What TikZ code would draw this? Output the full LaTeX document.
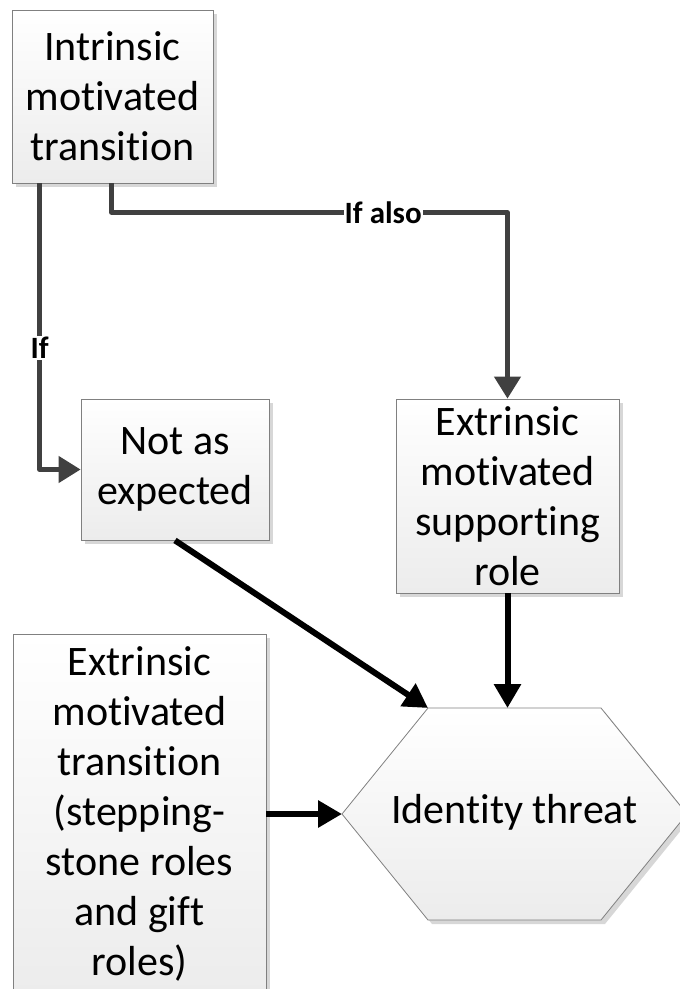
\documentclass[tikz,border=0pt]{standalone}
\usepackage{fontspec}
\setmainfont{Carlito}[Ligatures={NoCommon,NoRequired,NoContextual}]
\usetikzlibrary{arrows.meta,shadows,calc}
\definecolor{conngray}{RGB}{64,64,64}
\definecolor{bordergray}{RGB}{128,128,128}
\definecolor{fillbottom}{RGB}{236,236,236}
\definecolor{shadowgray}{RGB}{215,215,215}
\begin{document}
\begin{tikzpicture}[x=1pt,y=-1pt,
  boxstyle/.style={draw=bordergray, line width=0.8pt, top color=white, bottom color=fillbottom,
    drop shadow={shadow xshift=4pt,shadow yshift=-4pt,fill=shadowgray,opacity=1},
    align=center, inner sep=0pt, font=\fontsize{42}{50}\selectfont},
  hexstyle/.style={draw=bordergray, line width=0.8pt, top color=white, bottom color=fillbottom,
    drop shadow={shadow xshift=4pt,shadow yshift=-4pt,fill=shadowgray,opacity=1}},
  grayconn/.style={draw=conngray, line width=4.5pt, line join=round, -{Triangle[length=22pt,width=26pt]}},
  blackconn/.style={draw=black, line width=6pt, -{Triangle[length=24pt,width=26pt]}},
  lbl/.style={fill=white, inner sep=1pt, font=\fontsize{31}{36}\selectfont\bfseries}
]
\useasboundingbox (0,0) rectangle (680,989);
\clip (0,0) rectangle (680,989);

\node[boxstyle, minimum width=201pt, minimum height=173pt] (b1) at (112.5,96.5) {Intrinsic\\motivated\\transition};
\node[boxstyle, minimum width=188pt, minimum height=141pt] (b2) at (175,469.5) {Not as\\expected};
\node[boxstyle, minimum width=223pt, minimum height=194pt] (b3) at (507.5,496) {Extrinsic\\motivated\\supporting\\role};
\node[boxstyle, minimum width=253pt, minimum height=360pt] (b4) at (139.5,814) {Extrinsic\\motivated\\transition\\(stepping-\\stone roles\\and gift\\roles)};

\coordinate (hL) at (342,814);
\coordinate (hTL) at (428,708);
\coordinate (hTR) at (601,708);
\coordinate (hR) at (687,814);
\coordinate (hBR) at (601,920);
\coordinate (hBL) at (428,920);
\path[hexstyle] (hL) -- (hTL) -- (hTR) -- (hR) -- (hBR) -- (hBL) -- cycle;
\node[font=\fontsize{42}{50}\selectfont] (hex) at (514.5,812) {Identity threat};

\coordinate (s1) at ($(b1.south west)+(28,0)$);
\coordinate (s2) at ($(b1.south west)+(100,0)$);
\draw[grayconn] (s1) |- node[lbl, pos=0.288]{If} (b2.west);
\draw[grayconn] (s2) -- ++(0,29) coordinate (e2) -| node[lbl, pos=0.343]{If also} (b3.north);

\draw[blackconn] (b2.south) -- (hTL);
\draw[blackconn] (b3.south) -- (b3.south |- hTL);
\draw[blackconn] (b4.east) -- (hL);
\end{tikzpicture}
\end{document}
